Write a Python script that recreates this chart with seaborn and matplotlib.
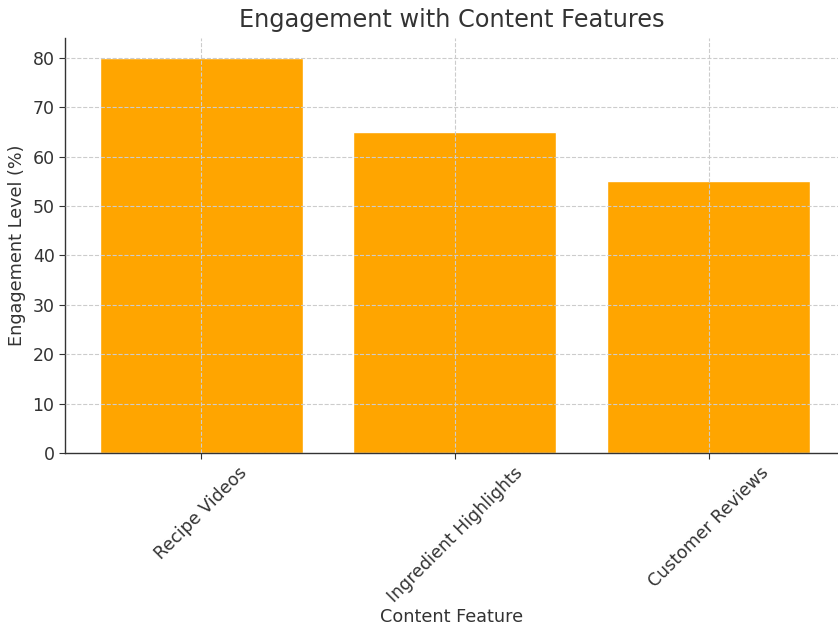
import matplotlib
matplotlib.use("Agg")
import matplotlib.pyplot as plt
import seaborn as sns
import pandas as pd

features = ["Recipe Videos", "Ingredient Highlights", "Customer Reviews"]
engagement = [80, 65, 55]

df = pd.DataFrame({"Content Feature": features, "Engagement Level (%)": engagement})

sns.set_style("white")
plt.rcParams['font.family'] = ['DejaVu Sans']
text_color = "#333333"

fig = plt.figure(figsize=(8.38, 6.27), dpi=100)
ax = fig.add_axes([65/838, 1 - 453/627, (838-65)/838, (453-38)/627])

sns.barplot(data=df, x="Content Feature", y="Engagement Level (%)", color="#FFA500",
            saturation=1, width=0.8, ax=ax, zorder=1)

ax.set_xlim(-0.537, 2.51)
ax.set_ylim(0, 84)
ax.set_yticks(range(0, 81, 10))
ax.grid(True, linestyle="--", color="#cccccc", linewidth=0.8, zorder=3)
ax.set_axisbelow(False)

for s in ["top", "right"]:
    ax.spines[s].set_visible(False)
for s in ["left", "bottom"]:
    ax.spines[s].set_color(text_color)
    ax.spines[s].set_linewidth(1.0)

ax.tick_params(axis="both", labelsize=12.5, colors=text_color, length=4, width=0.8, left=True, bottom=True)
plt.setp(ax.get_xticklabels(), rotation=45, ha="center", rotation_mode="default")
ax.set_xlabel("Content Feature", fontsize=12.7, color=text_color, labelpad=2)
ax.set_ylabel("Engagement Level (%)", fontsize=12.7, color=text_color, labelpad=5)
ax.set_title("Engagement with Content Features", fontsize=17.3, color=text_color, pad=8)

fig.savefig("out.png", dpi=100)
